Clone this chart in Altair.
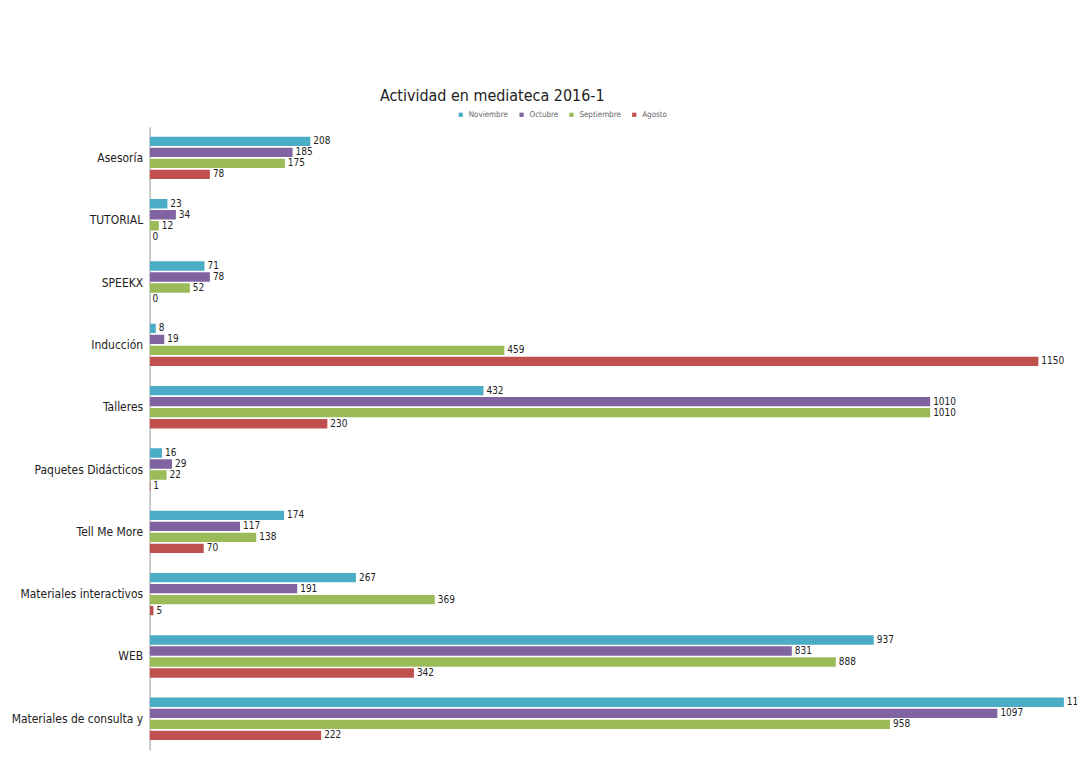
import altair as alt
import pandas as pd

categorias = ["Asesoría", "TUTORIAL", "SPEEKX", "Inducción", "Talleres",
              "Paquetes Didácticos", "Tell Me More", "Materiales interactivos",
              "WEB", "Materiales de consulta y"]
series = ["Noviembre", "Octubre", "Septiembre", "Agosto"]
colores = ["#4BACC6", "#8064A2", "#9BBB59", "#C0504D"]

noviembre = [208, 23, 71, 8, 432, 16, 174, 267, 937, 1183]
octubre = [185, 34, 78, 19, 1010, 29, 117, 191, 831, 1097]
septiembre = [175, 12, 52, 459, 1010, 22, 138, 369, 888, 958]
agosto = [78, 0, 0, 1150, 230, 1, 70, 5, 342, 222]

rows = []
for s, vals in zip(series, [noviembre, octubre, septiembre, agosto]):
    for c, v in zip(categorias, vals):
        rows.append({"cat": c, "serie": s, "valor": v})
df = pd.DataFrame(rows)

FONT = "'Liberation Sans Narrow', 'DejaVu Sans Condensed', 'Liberation Sans', sans-serif"

y_enc = alt.Y("cat:N", sort=categorias, title=None,
              scale=alt.Scale(paddingInner=0.32, paddingOuter=0.16),
              axis=alt.Axis(labelFont=FONT, labelFontSize=12, labelColor="#222",
                            ticks=False, domainColor="#999", labelPadding=7,
                            grid=False))
yoff = alt.YOffset("serie:N", sort=series, scale=alt.Scale(paddingInner=0.15))
x_enc = alt.X("valor:Q", scale=alt.Scale(domain=[0, 1200], nice=False),
              axis=None)

bars = alt.Chart(df).mark_bar(clip=True).encode(
    y=y_enc, yOffset=yoff, x=x_enc,
    color=alt.Color("serie:N", sort=series,
                    scale=alt.Scale(domain=series, range=colores),
                    legend=alt.Legend(orient="none", direction="horizontal",
                                      legendX=308, legendY=-16, title=None,
                                      symbolType="square", symbolSize=18,
                                      labelFont=FONT, labelFontSize=8,
                                      labelColor="#666", columnPadding=9,
                                      symbolOffset=0))
)

labels = alt.Chart(df).mark_text(align="left", baseline="middle", dx=3,
                                 font=FONT, fontSize=10, color="#222").encode(
    y=alt.Y("cat:N", sort=categorias), yOffset=yoff,
    x=alt.X("valor:Q"), text="valor:Q"
)

chart = alt.layer(bars, labels).properties(
    width=930, height=625,
    title=alt.TitleParams("Actividad en mediateca  2016-1", font=FONT,
                          fontSize=16, fontWeight="normal", color="#222",
                          anchor="start", dx=370, offset=7),
    autosize=alt.AutoSizeParams(type="none"),
    padding={"left": 142, "top": 118, "right": 0, "bottom": 12}
).configure(background="white").configure_view(stroke=None)

chart.save("out.html", embed_options={"renderer": "svg", "actions": False})
